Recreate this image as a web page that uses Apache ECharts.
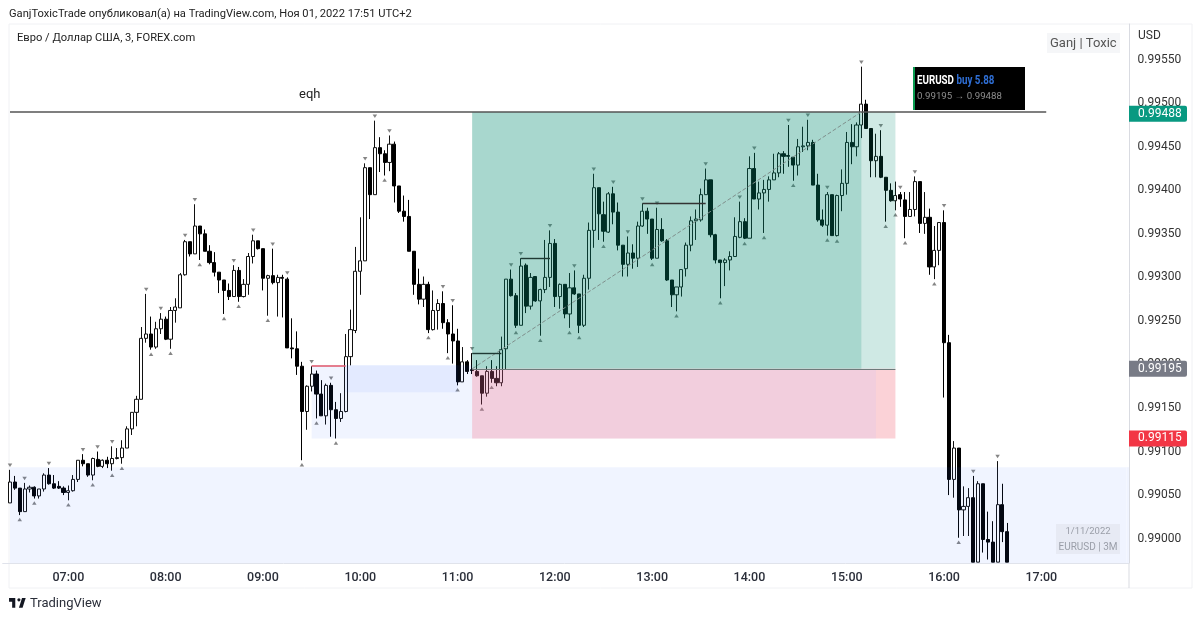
<!DOCTYPE html>
<html><head><meta charset="utf-8">
<style>html,body{margin:0;padding:0;background:#fff}#c{width:1200px;height:619px}</style>
<script src="https://cdn.jsdelivr.net/npm/echarts@6/dist/echarts.min.js"></script>
</head><body><div id="c"></div>
<script>
const opens=[99041,99065,99058,99031,99057,99059,99049,99057,99073,99063,
99060,99058,99053,99055,99068,99090,99086,99073,99091,99083,
99090,99086,99092,99093,99104,99126,99145,99160,99230,99235,
99220,99241,99252,99229,99262,99265,99303,99341,99327,99359,
99350,99330,99317,99306,99297,99285,99278,99308,99278,99292,
99324,99342,99333,99299,99302,99294,99300,99298,99219,99218,
99198,99146,99175,99189,99166,99141,99176,99148,99138,99146,
99209,99239,99307,99319,99426,99395,99449,99442,99432,99453,
99405,99376,99370,99330,99292,99275,99292,99240,99262,99270,
99248,99235,99227,99180,99203,99194,99192,99187,99167,99192,
99184,99179,99218,99298,99279,99245,99314,99267,99301,99273,
99286,99300,99339,99278,99292,99258,99288,99281,99245,99299,
99354,99403,99372,99352,99396,99375,99337,99315,99328,99322,
99359,99376,99367,99322,99355,99342,99297,99280,99289,99310,
99337,99365,99366,99395,99412,99349,99320,99317,99320,99324,
99346,99364,99345,99425,99390,99397,99401,99412,99420,99442,
99440,99438,99429,99450,99451,99455,99406,99366,99360,99395,
99348,99394,99408,99455,99450,99475,99499,99471,99434,99439,
99415,99400,99388,99395,99389,99370,99378,99410,99362,99369,
99312,99331,99363,99225,99068,99104,99033,99037,99047,98973,
99063,98999,98996,98973,99039,99008];
const closes=[99065,99058,99031,99057,99059,99049,99057,99073,99063,99058,
99058,99053,99055,99068,99090,99086,99073,99092,99083,99090,
99086,99092,99093,99104,99126,99145,99160,99230,99235,99220,
99241,99252,99229,99262,99266,99303,99341,99327,99359,99350,
99330,99317,99306,99297,99285,99278,99308,99278,99292,99324,
99342,99333,99299,99302,99294,99300,99299,99219,99218,99198,
99146,99175,99189,99166,99141,99176,99148,99138,99146,99209,
99240,99307,99319,99426,99395,99449,99442,99432,99453,99405,
99376,99370,99330,99292,99275,99292,99240,99262,99270,99248,
99235,99227,99180,99203,99192,99193,99187,99167,99192,99184,
99179,99217,99298,99279,99245,99313,99267,99300,99273,99286,
99300,99339,99278,99292,99258,99288,99281,99245,99299,99354,
99403,99373,99353,99396,99375,99337,99315,99328,99322,99359,
99376,99367,99322,99355,99342,99297,99280,99289,99309,99337,
99365,99367,99395,99412,99349,99320,99317,99320,99324,99347,
99364,99345,99425,99390,99397,99401,99412,99420,99442,99439,
99439,99429,99450,99451,99455,99406,99366,99360,99395,99348,
99394,99408,99455,99450,99475,99499,99471,99434,99439,99415,
99400,99388,99394,99390,99370,99378,99410,99362,99369,99312,
99331,99363,99225,99068,99104,99033,99037,99047,98973,99063,
98999,98996,98973,99039,99008,98973];
const lows=[99041,99056,99027,99031,99053,99046,99046,99054,99062,99057,
99057,99050,99044,99054,99065,99083,99071,99067,99082,99081,
99081,99078,99091,99086,99104,99119,99129,99160,99225,99217,
99218,99235,99228,99218,99248,99265,99302,99324,99327,99320,
99330,99315,99301,99282,99258,99274,99278,99272,99277,99280,
99316,99332,99285,99256,99292,99255,99254,99219,99207,99188,
99090,99125,99169,99138,99141,99131,99117,99115,99134,99145,
99199,99236,99280,99319,99367,99395,99421,99417,99422,99386,
99374,99364,99330,99280,99269,99266,99236,99239,99240,99241,
99213,99201,99176,99180,99189,99189,99186,99154,99163,99179,
99175,99175,99194,99278,99242,99245,99259,99263,99272,99233,
99282,99289,99266,99264,99253,99242,99280,99236,99243,99286,
99334,99343,99341,99351,99361,99331,99301,99301,99310,99312,
99358,99350,99320,99322,99341,99296,99266,99261,99278,99301,
99330,99343,99364,99395,99346,99316,99276,99290,99308,99324,
99345,99344,99345,99390,99378,99351,99387,99412,99415,99419,
99427,99411,99417,99444,99446,99406,99364,99358,99348,99348,
99347,99376,99395,99430,99439,99460,99471,99415,99415,99414,
99364,99387,99377,99381,99345,99370,99370,99351,99350,99303,
99298,99314,99162,99050,99047,99001,99003,99003,98973,98973,
98984,98976,98973,98973,98996,98973];
const highs=[99079,99072,99058,99064,99061,99060,99057,99075,99081,99073,
99066,99060,99061,99073,99090,99097,99086,99093,99100,99091,
99094,99106,99104,99113,99129,99145,99164,99243,99281,99255,
99249,99259,99255,99266,99276,99305,99343,99341,99384,99359,
99355,99337,99329,99306,99297,99293,99314,99312,99298,99328,
99349,99342,99333,99303,99333,99303,99303,99300,99253,99238,
99203,99176,99198,99193,99182,99178,99179,99157,99167,99235,
99263,99335,99369,99431,99426,99480,99461,99446,99463,99456,
99405,99394,99389,99330,99310,99301,99295,99285,99275,99284,
99252,99268,99241,99220,99205,99213,99205,99187,99198,99205,
99198,99232,99298,99309,99282,99322,99316,99305,99301,99287,
99343,99354,99344,99293,99292,99305,99308,99281,99303,99363,
99419,99403,99387,99398,99404,99386,99337,99347,99338,99364,
99385,99380,99367,99380,99368,99344,99297,99289,99309,99340,
99370,99378,99402,99425,99412,99350,99320,99322,99330,99369,
99387,99368,99439,99443,99410,99412,99416,99442,99444,99445,
99475,99438,99459,99473,99481,99458,99419,99378,99398,99395,
99395,99424,99467,99476,99478,99542,99504,99471,99465,99469,
99415,99408,99410,99398,99398,99398,99416,99410,99398,99379,
99359,99363,99377,99234,99112,99104,99060,99058,99072,99066,
99063,99031,99020,99089,99063,99018];
const highPivots=[0,3,8,15,18,21,28,31,36,38,46,50,54,57,62,66,73,75,78,89,91,95,103,105,111,116,120,124,127,130,133,143,150,153,160,164,168,175,179,183,186,192,198,203];
const lowPivots=[2,5,12,17,21,23,29,33,39,44,47,53,60,63,67,77,86,90,92,97,99,104,109,115,117,122,132,137,146,151,155,161,168,170,180,182,184,190,195];
const yTicks=[0.99,0.9905,0.991,0.9915,0.992,0.9925,0.993,0.9935,0.994,0.9945,0.995,0.9955];
const entryPrice=0.99195, targetPrice=0.99488, stopPrice=0.99115;
const eqhPrice=0.9949, zoneTop=0.99082, axisMin=0.98972, axisMax=0.99591;
const categoryCount=231;
// Category 0 is a blank bar before the first 06:24 candle
const categories=Array.from({length:categoryCount},(_,k)=>{
  const m=6*60+21+3*k;
  return String(Math.floor(m/60)).padStart(2,'0')+':'+String(m%60).padStart(2,'0');
});
const P=v=>v/1e5;
const X=i=>i+1;
const candleData=[['-','-','-','-']].concat(opens.map((o,i)=>[P(o),P(closes[i]),P(lows[i]),P(highs[i])]));
const BASE='Roboto, "Noto Sans", sans-serif';
const chart=echarts.init(document.getElementById('c'),null,{renderer:'canvas'});
const area=(x0,y0,x1,y1,color)=>[{xAxis:x0,yAxis:y0,itemStyle:{color}},{xAxis:x1,yAxis:y1}];
const GREEN='rgba(0,137,110,0.19)', BLUE='rgba(41,98,255,0.07)';
const seg=(i0,v0,i1,v1,color,width,type)=>[{xAxis:X(i0),yAxis:v0,lineStyle:{color,width,type:type||'solid'}},{xAxis:X(i1),yAxis:v1}];
chart.setOption({
  animation:false,backgroundColor:'#fff',
  grid:{left:2.7,top:24,width:1123.8,height:539},
  xAxis:{type:'category',data:categories,boundaryGap:true,
    axisLine:{lineStyle:{color:'#e0e3eb'}},axisTick:{show:false},splitLine:{show:false},
    axisLabel:{interval:(k,v)=>v.endsWith(':00'),color:'#2a2e39',fontFamily:BASE,fontSize:12.5,fontWeight:500,margin:8,hideOverlap:false}},
  yAxis:{type:'value',position:'right',offset:2.5,min:axisMin,max:axisMax,scale:true,
    splitLine:{show:false},axisTick:{show:false},
    axisLine:{show:true,lineStyle:{color:'#d9dbe1'}},
    axisLabel:{customValues:yTicks,formatter:v=>v.toFixed(5),color:'#333',fontFamily:BASE,fontSize:12,margin:8.5,padding:[2,0,0,0]}},
  series:[
    {type:'candlestick',name:'EURUSD',data:candleData,barWidth:3.6,z:2,
     itemStyle:{color:'#fff',color0:'#000',borderColor:'#111',borderColor0:'#000',borderWidth:1},
     markLine:{silent:true,symbol:'none',z:6,label:{show:false},animation:false,data:[
       seg(0,eqhPrice,213,eqhPrice,'#555',1.5),
       seg(95,entryPrice,182,entryPrice,'#6f7a7a',1),
       seg(95,entryPrice,175,eqhPrice,'#7f8f8c',1,'dashed'),
       seg(62,0.99199,69,0.99199,'#e0566a',1.5),
       seg(95,0.99213,101,0.99213,'#1f3a34',1.4),
       seg(105,0.99322,111,0.99322,'#1f3a34',1.4),
       seg(130,0.99385,143,0.99385,'#333',1.4)
     ]}},
    {type:'scatter',name:'highs',z:3,symbol:'triangle',symbolRotate:180,symbolSize:[4.5,3.5],symbolOffset:[0,-4.5],
     itemStyle:{color:'#666'},silent:true,data:highPivots.map(i=>[X(i),P(highs[i])])},
    {type:'scatter',name:'lows',z:3,symbol:'triangle',symbolSize:[4.5,3.5],symbolOffset:[0,4.5],
     itemStyle:{color:'#666'},silent:true,data:lowPivots.map(i=>[X(i),P(lows[i])])},
    {type:'line',name:'zones',z:4,data:[],silent:true,
     markArea:{silent:true,z:4,animation:false,label:{show:false},data:[
       area(X(95),eqhPrice,X(182),entryPrice,GREEN),
       area(X(95),eqhPrice,X(175),entryPrice,GREEN),
       area(X(95),entryPrice,X(182),stopPrice,'rgba(234,18,40,0.19)'),
       area(X(95),entryPrice,X(178),stopPrice,'rgba(197,190,254,0.15)'),
       area(X(62),0.99199,X(95),stopPrice,BLUE),
       area(X(69),0.99199,X(92),0.99168,'rgba(41,98,255,0.065)'),
       area(X(0),zoneTop,Infinity,axisMin,BLUE)
     ]}}
  ]
});
const py=v=>chart.convertToPixel({yAxisIndex:0},v);
const tag=(v,bg)=>[
  {type:'rect',z:50,zlevel:1,shape:{x:1129,y:py(v)-8,width:58,height:16,r:[0,2,2,0]},style:{fill:bg}},
  {type:'text',z:51,zlevel:1,style:{x:1138,y:py(v),text:v.toFixed(5),fill:'#fff',font:'12px '+BASE,verticalAlign:'middle'}}
];
// TradingView logo outline, in its own 36-unit drawing space
const LOGO_SX=0.52, LOGO_SY=0.65, LOGO_X=8, LOGO_Y=594;
const lg=pts=>pts.map(([a,b])=>[LOGO_X+a*LOGO_SX,LOGO_Y+b*LOGO_SY]);
chart.setOption({graphic:[
  {type:'rect',z:0,silent:true,shape:{x:9,y:24,width:1183,height:564},style:{fill:'none',stroke:'#f0f1f4',lineWidth:1}},
  {type:'line',z:40,shape:{x1:1129,y1:563,x2:1129,y2:588},style:{stroke:'#d9dbe1',lineWidth:1}},
  {type:'line',z:40,shape:{x1:1126,y1:563.5,x2:1129,y2:563.5},style:{stroke:'#e0e3eb',lineWidth:1}},
  {type:'rect',z:40,shape:{x:1126.5,y:py(zoneTop),width:2.5,height:py(axisMin)-py(zoneTop)},style:{fill:'#f0f4ff'}},
  {type:'text',z:50,style:{x:9,y:14,text:'GanjToxicTrade опубликовал(а) на TradingView.com, Ноя 01, 2022 17:51 UTC+2',fill:'#222',font:'11.15px '+BASE,verticalAlign:'middle'}},
  {type:'text',z:50,style:{x:17,y:38,text:'Евро / Доллар США, 3, FOREX.com',fill:'#222',font:'11.15px '+BASE,verticalAlign:'middle'}},
  {type:'text',z:50,style:{x:299,y:py(eqhPrice)-17,text:'eqh',fill:'#222',font:'13px '+BASE,verticalAlign:'middle'}},
  {type:'text',z:50,style:{x:1138,y:36,text:'USD',fill:'#333',font:'12px '+BASE,verticalAlign:'middle'}},
  {type:'rect',z:49,shape:{x:1047,y:33,width:73,height:20},style:{fill:'#f5f6f8'}},
  {type:'text',z:50,style:{x:1050,y:43.5,text:'Ganj | Toxic',fill:'#555',font:'13px '+BASE,verticalAlign:'middle'}},
  {type:'rect',z:49,shape:{x:913,y:67,width:112,height:43},style:{fill:'#000'}},
  {type:'rect',z:50,shape:{x:913,y:67,width:2,height:43},style:{fill:'#0a9b50'}},
  {type:'text',z:50,x:917,y:81,scaleX:0.78,style:{x:0,y:0,verticalAlign:'middle',text:'{a|EURUSD} {b|buy 5.88}',
    rich:{a:{fill:'#fff',font:'bold 12.5px '+BASE},b:{fill:'#2f6fd6',font:'bold 12.5px '+BASE}}}},
  {type:'text',z:50,style:{x:917,y:97,text:entryPrice.toFixed(5)+' → '+targetPrice.toFixed(5),fill:'#8e8e8e',font:'9.7px '+BASE,verticalAlign:'middle'}},
  ...tag(targetPrice,'#089981'),...tag(entryPrice,'#787b86'),...tag(stopPrice,'#f23645'),
  {type:'rect',z:49,shape:{x:1056,y:524,width:64,height:30},style:{fill:'#e7eaf4'}},
  {type:'text',z:50,style:{x:1088,y:532,text:'1/11/2022',align:'center',fill:'#9a9ea8',font:'9.5px '+BASE,verticalAlign:'middle'}},
  {type:'text',z:50,style:{x:1088,y:547,text:'EURUSD | 3M',align:'center',fill:'#9a9ea8',font:'10px '+BASE,verticalAlign:'middle'}},
  {type:'polygon',z:50,shape:{points:lg([[2,6],[14,6],[14,21],[8,21],[8,12],[2,12]])},style:{fill:'#131722'}},
  {type:'polygon',z:50,shape:{points:lg([[27,6],[34,6],[28,21],[21,21]])},style:{fill:'#131722'}},
  {type:'circle',z:50,shape:{cx:LOGO_X+21*LOGO_SX,cy:LOGO_Y+9*LOGO_SY,r:3*LOGO_SX},style:{fill:'#131722'}},
  {type:'text',z:50,style:{x:30,y:604,text:'TradingView',fill:'#2a2e39',font:'13px '+BASE,verticalAlign:'middle'}}
]});
</script></body></html>
